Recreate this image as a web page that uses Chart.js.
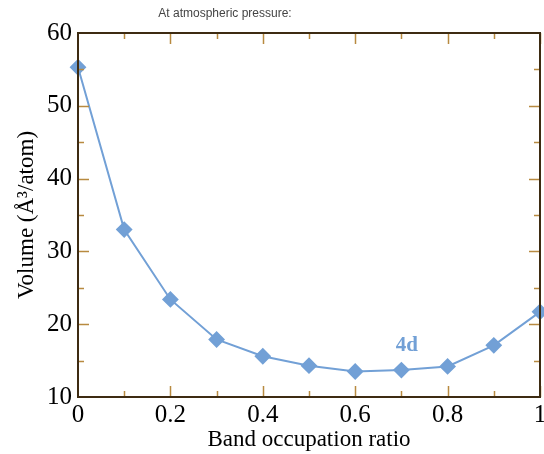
<!DOCTYPE html>
<html>
<head>
<meta charset="utf-8">
<script src="https://cdn.jsdelivr.net/npm/chart.js@4"></script>
<style>
  body { margin: 0; background: #fff; }
  #wrap { width: 544px; height: 454px; position: relative; }
</style>
</head>
<body>
<div id="wrap"><canvas id="volumeChart"></canvas></div>
<script>
// band occupation ratio vs volume, 4d series
const occupation = [0, 0.1, 0.2, 0.3, 0.4, 0.5, 0.6, 0.7, 0.8, 0.9, 1.0];
const volume4d = [55.3, 33.0, 23.4, 17.9, 15.6, 14.3, 13.5, 13.7, 14.2, 17.1, 21.7];
const xTicks = [0, 0.2, 0.4, 0.6, 0.8, 1];
const yTicks = [10, 20, 30, 40, 50, 60];

const frameColor = '#3d2b12';
const tickColor = '#b88a40';
const lineColor = '#72a0d6';
const serif = "'Liberation Serif', 'DejaVu Serif', serif";

// inner ticks on all four sides + top/right frame
const frameTicks = {
    id: 'frameTicks',
    afterDatasetsDraw(chart) {
        const ctx = chart.ctx;
        const a = chart.chartArea;
        const xs = chart.scales.x, ys = chart.scales.y;
        ctx.save();
        ctx.strokeStyle = tickColor;
        ctx.lineWidth = 1.5;
        for (let v = 0.1; v < 1; v += 0.1) {
            const px = Math.round(xs.getPixelForValue(v)) + 0.5;
            const major = Math.round(v * 10) % 2 === 0;
            const len = major ? 11 : 6;
            ctx.beginPath();
            ctx.moveTo(px, a.bottom); ctx.lineTo(px, a.bottom - len);
            ctx.moveTo(px, a.top); ctx.lineTo(px, a.top + len);
            ctx.stroke();
        }
        for (let v = 15; v < 60; v += 5) {
            const py = Math.round(ys.getPixelForValue(v)) + 0.5;
            const len = v % 10 === 0 ? 11 : 6;
            ctx.beginPath();
            ctx.moveTo(a.left, py); ctx.lineTo(a.left + len, py);
            ctx.moveTo(a.right, py); ctx.lineTo(a.right - len, py);
            ctx.stroke();
        }
        ctx.strokeStyle = frameColor;
        ctx.lineWidth = 2;
        ctx.strokeRect(a.left, a.top, a.right - a.left, a.bottom - a.top);

        // series label
        ctx.fillStyle = lineColor;
        ctx.font = 'bold 21px ' + serif;
        ctx.textAlign = 'center';
        ctx.textBaseline = 'middle';
        ctx.fillText('4d', xs.getPixelForValue(0.712), ys.getPixelForValue(17.0));

        // heading
        ctx.fillStyle = '#444';
        ctx.font = "12px 'Liberation Sans', Arial, sans-serif";
        ctx.fillText('At atmospheric pressure:', 225, 14);
        ctx.restore();
    }
};

new Chart(document.getElementById('volumeChart').getContext('2d'), {
    type: 'line',
    data: {
        datasets: [{
            data: occupation.map((x, i) => ({ x: x, y: volume4d[i] })),
            borderColor: lineColor,
            backgroundColor: lineColor,
            borderWidth: 2,
            pointStyle: 'rectRot',
            pointRadius: 7,
            pointHoverRadius: 7,
            tension: 0,
            clip: false,
        }],
    },
    options: {
        responsive: true,
        maintainAspectRatio: false,
        animation: false,
        devicePixelRatio: 1,
        layout: { autoPadding: false, padding: { top: 33, right: 4, left: 0, bottom: 0 } },
        plugins: { legend: { display: false }, tooltip: { enabled: false } },
        scales: {
            x: {
                type: 'linear',
                min: 0,
                max: 1,
                afterBuildTicks: s => { s.ticks = xTicks.map(v => ({ value: v })); },
                ticks: { color: '#000', font: { family: serif, size: 25 }, padding: 3, maxRotation: 0, callback: v => String(v) },
                grid: { display: false, drawTicks: false },
                border: { color: frameColor, width: 2 },
                title: { display: true, text: 'Band occupation ratio', color: '#000', font: { family: serif, size: 23 }, padding: 0 },
                afterFit: s => { s.height = 57; s.paddingLeft = 0; s.paddingRight = 0; },
            },
            y: {
                min: 10,
                max: 60,
                afterBuildTicks: s => { s.ticks = yTicks.map(v => ({ value: v })); },
                ticks: { color: '#000', font: { family: serif, size: 25 }, padding: 6 },
                grid: { display: false, drawTicks: false },
                border: { color: frameColor, width: 2 },
                title: { display: true, text: 'Volume (Å³/atom)', color: '#000', font: { family: serif, size: 23 }, padding: { top: 13, bottom: 0 } },
                afterFit: s => { s.width = 78; s.paddingTop = 0; s.paddingBottom = 0; },
            },
        },
    },
    plugins: [frameTicks],
});
</script>
</body>
</html>
